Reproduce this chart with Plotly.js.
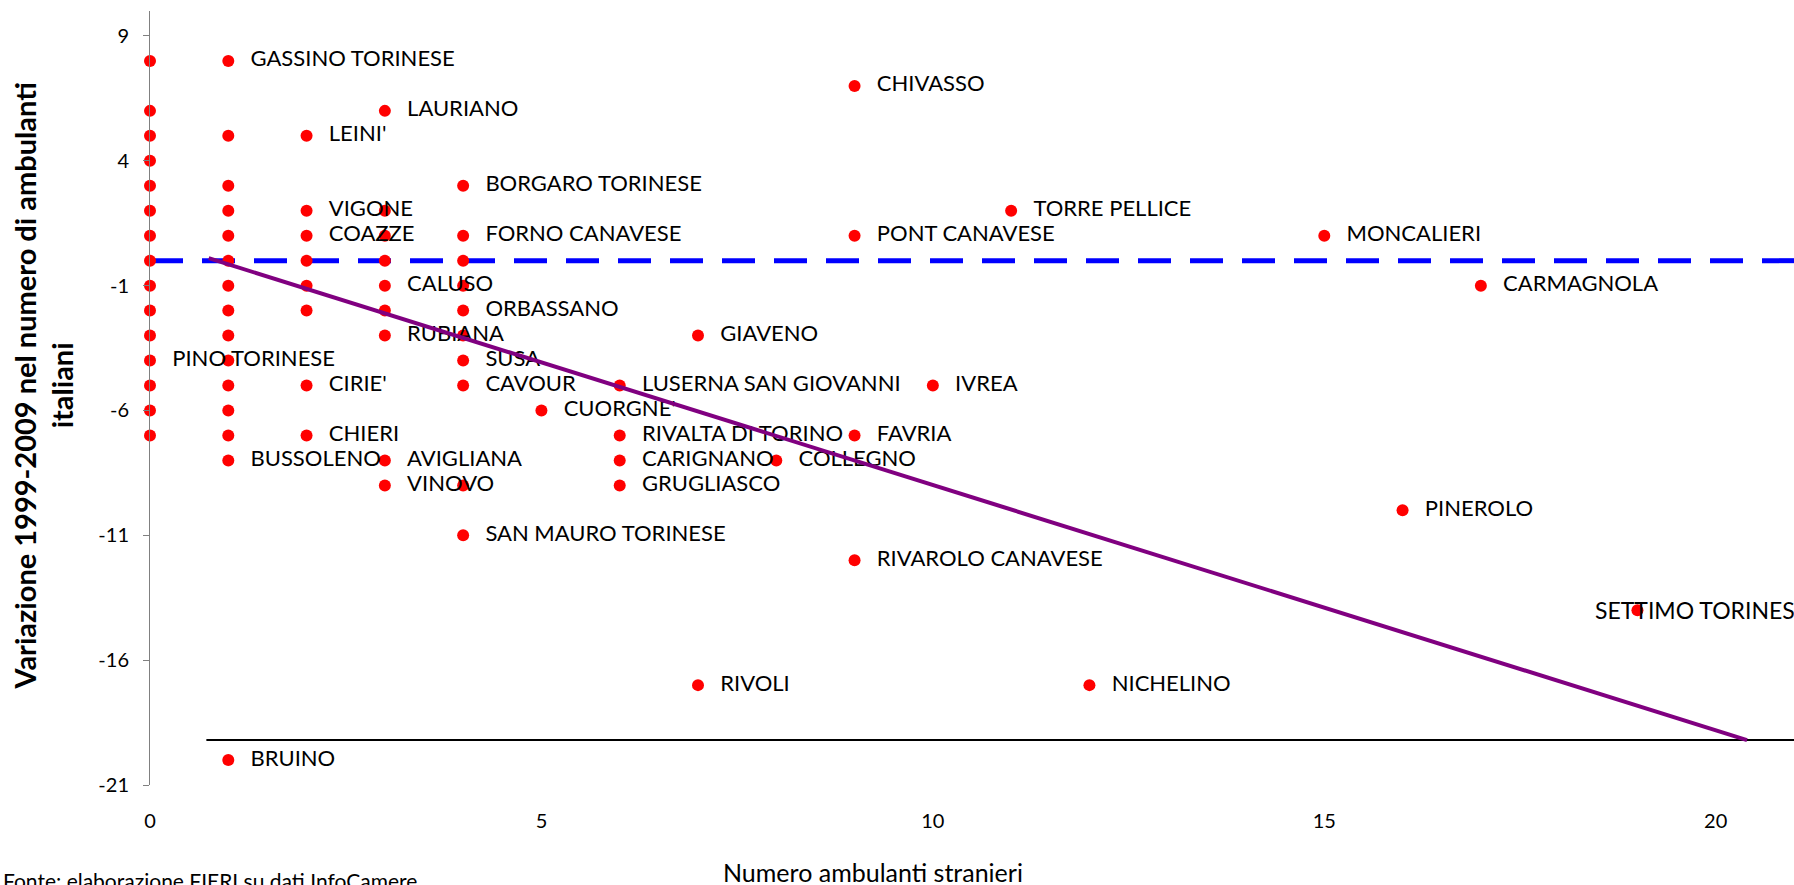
<!DOCTYPE html>
<html>
<head>
<meta charset="utf-8">
<script src="https://cdn.plot.ly/plotly-3.0.1.min.js"></script>
<style>
  html, body { margin: 0; padding: 0; background: #ffffff; }
  #chart { width: 1794px; height: 885px; }
</style>
</head>
<body>
<div id="chart"></div>
<script>
// Numero ambulanti stranieri (x) and variazione 1999-2009 ambulanti italiani (y)
const stranieri = [
  0,0,0,0,0,0,0,0,0,0,0,0,0,0,0,
  1,1,1,1,1,1,1,1,1,1,1,1,1,1,1,
  2,2,2,2,2,2,2,2,
  3,3,3,3,3,3,3,3,3,
  4,4,4,4,4,4,4,4,4,4,
  5,
  6,6,6,6,
  7,7,
  8,
  9,9,9,9,
  10,
  11,
  12,
  15,
  16,
  17,
  19
];
const variazione = [
  8,6,5,4,3,2,1,0,-1,-2,-3,-4,-5,-6,-7,
  8,5,3,2,1,0,-1,-2,-3,-4,-5,-6,-7,-8,-20,
  5,2,1,0,-1,-2,-5,-7,
  6,2,1,0,-1,-2,-3,-8,-9,
  3,1,0,-1,-2,-3,-4,-5,-9,-11,
  -6,
  -5,-7,-8,-9,
  -3,-17,
  -8,
  7,1,-7,-12,
  -5,
  2,
  -17,
  1,
  -10,
  -1,
  -14
];
const comuni = [
  "","","","","","","","","","","","PINO TORINESE","","","",
  "GASSINO TORINESE","","","","","","","","","","","","","BUSSOLENO","BRUINO",
  "LEINI'","VIGONE","COAZZE","","","","CIRIE'","CHIERI",
  "LAURIANO","","","","CALUSO","","RUBIANA","AVIGLIANA","VINOVO",
  "BORGARO TORINESE","FORNO CANAVESE","","","ORBASSANO","","SUSA","CAVOUR","","SAN MAURO TORINESE",
  "CUORGNE'",
  "LUSERNA SAN GIOVANNI","RIVALTA DI TORINO","CARIGNANO","GRUGLIASCO",
  "GIAVENO","RIVOLI",
  "COLLEGNO",
  "CHIVASSO","PONT CANAVESE","FAVRIA","RIVAROLO CANAVESE",
  "IVREA",
  "TORRE PELLICE",
  "NICHELINO",
  "MONCALIERI",
  "PINEROLO",
  "CARMAGNOLA",
  "SETTIMO TORINESE"
];
// labels placed to the left of their point in the original
const labelsLeft = ["SETTIMO TORINESE"];

// reference lines drawn on the chart
const zeroLineX = [0, 21];
const zeroLineY = [0, 0];
const baseLineX = [0.72, 21];
const baseLineY = [-19.2, -19.2];
const trendX = [0.75, 20.4];
const trendY = [0.1, -19.2];

// y axis ticks
const yTickVals = [-21, -16, -11, -6, -1, 4, 9];
const yTickText = yTickVals.map(v => String(v));
const xTickVals = [0, 5, 10, 15, 20];
const xTickText = xTickVals.map(v => String(v));

const FONT = "Lato, 'Liberation Sans', Arial, sans-serif";

const rightText = comuni.map(c => labelsLeft.includes(c) ? "" : c);

const traces = [
  { x: zeroLineX, y: zeroLineY, mode: "lines", type: "scatter",
    line: { color: "#0000FF", width: 5, dash: "33px,19px" }, hoverinfo: "skip" },
  { x: baseLineX, y: baseLineY, mode: "lines", type: "scatter",
    line: { color: "#000000", width: 2 }, hoverinfo: "skip" },
  { x: stranieri, y: variazione, mode: "markers", type: "scatter",
    marker: { color: "#FF0000", size: 12 }, cliponaxis: false },
  { x: stranieri, y: variazione, mode: "markers+text", type: "scatter",
    text: rightText, textposition: "middle right",
    textfont: { family: FONT, size: 22, color: "#000000" },
    marker: { color: "rgba(0,0,0,0)", size: 34 }, cliponaxis: true, hoverinfo: "skip" },
  { x: trendX, y: trendY, mode: "lines", type: "scatter",
    line: { color: "#800080", width: 4 }, hoverinfo: "skip" }
];

const annotations = [];
comuni.forEach((c, i) => {
  if (labelsLeft.includes(c)) {
    annotations.push({ x: stranieri[i], y: variazione[i], xref: "x", yref: "y",
      text: c, showarrow: false, xanchor: "left", yanchor: "middle", xshift: -44,
      font: { family: FONT, size: 23, color: "#000000" } });
  }
});
annotations.push(
  { xref: "paper", yref: "paper", x: -0.065, y: 0.515, xanchor: "center", yanchor: "middle",
    text: "<b>Variazione 1999-2009 nel numero di ambulanti<br>italiani</b>", textangle: -90,
    showarrow: false, font: { family: FONT, size: 29, color: "#000000" } },
  { xref: "paper", yref: "paper", x: 0.4398, y: -0.1123, xanchor: "center", yanchor: "middle",
    text: "Numero ambulanti stranieri", showarrow: false,
    font: { family: FONT, size: 25, color: "#000000" } },
  { xref: "paper", yref: "paper", x: -0.0906, y: -0.1046, xanchor: "left", yanchor: "top",
    text: "Fonte: elaborazione FIERI su dati InfoCamere", showarrow: false,
    font: { family: FONT, size: 21, color: "#000000" } }
);

const layout = {
  width: 1794, height: 885,
  margin: { l: 150, r: 0, t: 10.5, b: 100, pad: 0 },
  paper_bgcolor: "#ffffff", plot_bgcolor: "#ffffff",
  showlegend: false,
  font: { family: FONT, color: "#000000" },
  xaxis: { range: [0, 21], tickmode: "array", tickvals: xTickVals, ticktext: xTickText,
    showline: false, zeroline: false, showgrid: false, ticks: "", ticklabelstandoff: 22,
    tickfont: { family: FONT, size: 20, color: "#000000" } },
  yaxis: { range: [-21, 10], tickmode: "array", tickvals: yTickVals, ticktext: yTickText,
    showline: true, linecolor: "#808080", linewidth: 1, ticks: "outside", ticklen: 6,
    tickcolor: "#808080", zeroline: false, showgrid: false, ticklabelstandoff: 10,
    tickfont: { family: FONT, size: 20, color: "#000000" } },
  annotations: annotations
};

Plotly.newPlot("chart", traces, layout, { staticPlot: true, displayModeBar: false });
</script>
</body>
</html>
